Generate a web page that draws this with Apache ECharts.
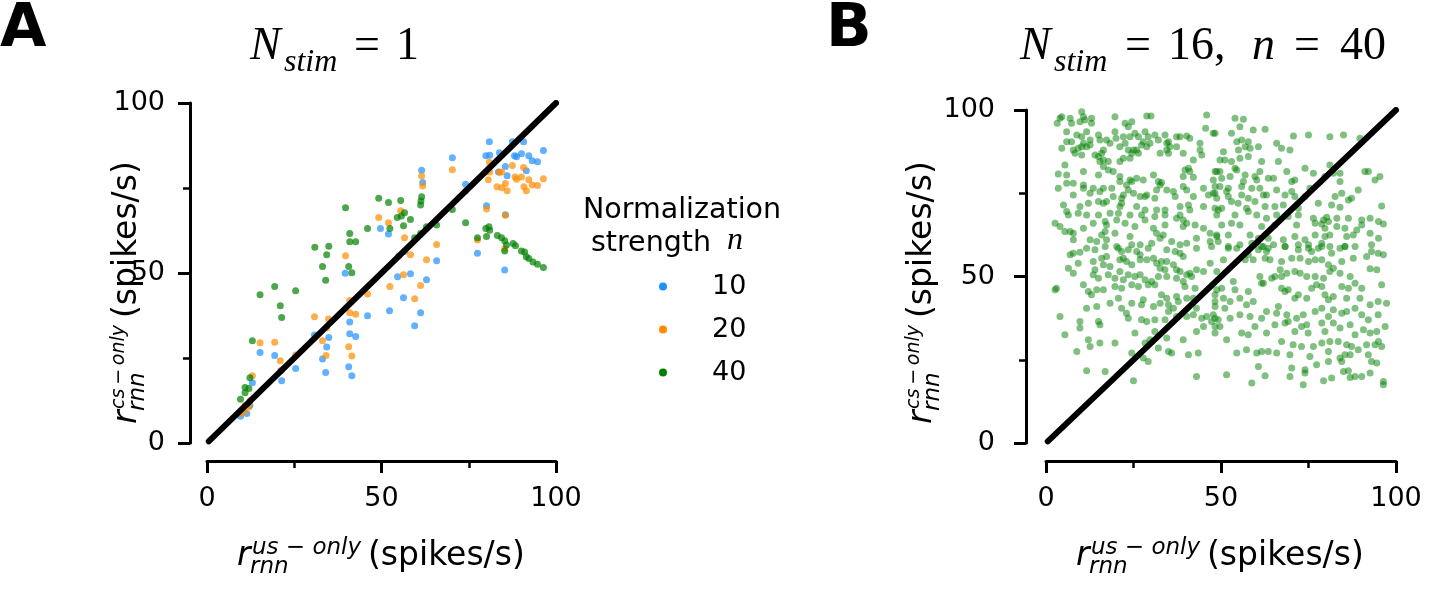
<!DOCTYPE html>
<html>
<head>
<meta charset="utf-8">
<script src="https://cdn.jsdelivr.net/npm/echarts@6/dist/echarts.min.js"></script>
<style>
  html, body { margin: 0; padding: 0; background: #fff; }
  #chart-container { width: 1452px; height: 609px; }
</style>
</head>
<body>
<div id="chart-container"></div>
<script>
var dom = document.getElementById("chart-container");
var myChart = echarts.init(dom, null, { renderer: "canvas" });

// panel A: r_cs-only vs r_us-only for three normalization strengths
const legendNames = ["10", "20", "40"];
const n10 = [
  [39.6,49.9],[46.0,37.4],[40.9,35.6],[30.8,31.8],[34.9,31.0],[40.9,32.1],[42.6,31.3],[15.2,26.6],[19.4,25.7],[34.3,28.2],
  [33.1,24.7],[40.6,22.4],[41.5,19.8],[34.0,20.7],[25.4,21.9],[21.4,18.3],[21.1,21.2],[13.0,17.7],[12.3,11.0],[9.6,7.9],
  [11.4,8.7],[80.9,88.6],[87.5,88.6],[90.7,88.6],[83.8,85.4],[79.9,84.5],[81.0,84.6],[96.4,86.0],[88.1,84.5],[88.7,84.2],
  [90.1,85.1],[92.2,84.5],[93.2,83.0],[94.7,82.7],[70.3,83.9],[83.5,79.7],[85.5,81.3],[91.5,80.1],[86.0,78.6],[61.5,80.2],
  [61.8,76.6],[74.1,76.1],[49.7,63.1],[52.0,61.5],[80.1,69.8],[85.5,67.1],[77.5,55.8],[56.6,56.3],[65.8,53.6],[85.3,50.9],
  [54.6,48.9],[58.3,49.8],[62.9,48.0],[56.3,42.7],[52.3,38.9],[61.2,38.3],[59.5,34.5]
];
const n20 = [
  [49.2,66.3],[39.7,55.1],[46.0,43.8],[40.9,41.9],[40.9,38.3],[42.6,37.9],[30.8,37.1],[34.8,36.5],[34.3,33.9],[33.1,30.1],
  [15.2,29.5],[19.4,29.6],[21.0,24.2],[25.4,25.9],[34.1,25.7],[40.6,28.3],[41.5,25.6],[21.4,21.5],[13.0,19.8],[12.3,12.4],
  [10.9,11.0],[12.0,10.6],[9.6,8.7],[10.7,9.2],[80.9,82.6],[79.9,79.7],[81.0,79.7],[83.8,79.6],[84.4,79.7],[87.5,81.6],
  [90.7,81.0],[88.3,78.2],[90.1,78.2],[88.7,77.6],[92.2,77.4],[96.4,77.7],[80.6,77.4],[85.5,76.3],[83.1,75.4],[84.5,75.1],
  [86.0,74.2],[90.8,75.4],[91.5,74.2],[93.2,75.9],[94.7,75.7],[61.5,78.5],[61.8,75.6],[70.3,80.4],[74.1,74.1],[55.5,68.3],
  [52.0,64.8],[56.6,60.4],[80.1,68.8],[85.5,67.0],[77.5,59.7],[65.8,58.4],[54.9,55.0],[58.3,55.4],[62.9,53.9],[85.3,57.1],
  [56.3,49.5],[52.4,46.0],[61.2,46.3],[59.5,42.4]
];
const n40 = [
  [49.2,72.0],[39.7,69.2],[46.0,63.1],[40.9,61.6],[40.9,59.2],[42.6,59.2],[30.9,57.6],[34.9,57.9],[34.3,55.4],[33.1,51.9],
  [40.6,51.9],[41.5,50.1],[34.0,47.9],[19.4,46.0],[15.2,43.6],[25.4,44.8],[21.0,40.4],[21.4,36.9],[13.0,30.1],[12.3,19.2],
  [10.9,16.3],[12.0,16.0],[10.9,14.8],[9.6,12.9],[52.0,70.7],[55.5,71.3],[61.5,72.4],[61.3,71.2],[61.2,70.0],[70.3,68.7],
  [56.6,67.7],[54.5,66.3],[55.7,66.8],[58.3,65.7],[52.4,63.1],[56.3,63.9],[62.9,63.6],[65.8,64.1],[59.5,60.4],[61.2,61.6],
  [74.1,64.8],[79.9,63.1],[80.8,63.6],[81.0,62.6],[80.1,60.7],[77.5,60.4],[83.2,61.0],[84.4,60.4],[85.3,59.5],[85.8,58.2],
  [87.7,58.7],[88.4,58.0],[85.3,56.5],[90.1,56.5],[91.0,56.2],[91.5,54.8],[92.2,54.3],[93.4,53.2],[94.7,52.6],[96.4,51.6]
];

// panel B: N_stim = 16, n = 40
const stim16 = [
  [4.0,97.5],[3.2,96],[4.5,98],[6.9,97.5],[7.3,96],[10.2,99.5],[10.7,98],[9.7,96.5],[11.1,97],[13.0,97.5],[13.0,96],[19.7,98],
  [22.6,96],[23.5,95],[24.5,96.5],[28.8,98.2],[30.0,98.2],[45.9,98.5],[45.6,94.5],[47.8,93],[5.9,93.5],[8.8,92.5],[10.2,92],
  [11.6,93.5],[12.6,91],[15.0,92.5],[15.4,91],[17.3,91],[18.3,90],[19.7,93.5],[20.0,91.5],[22.1,92],[24.0,92],[25.4,93],
  [26.4,92],[28.3,93.5],[29.2,92],[31.1,92.5],[32.1,91],[34.0,92.5],[35.0,90.5],[37.3,92],[38.3,92],[40.2,92.2],[41.1,91.5],
  [44.0,90],[5.9,90.5],[7.3,90.5],[10.7,90],[11.6,89],[12.6,89.5],[10.2,89],[9.2,88.5],[4.5,88.5],[7.8,88],[8.3,87],
  [10.2,86.5],[14.0,86.5],[15.0,86],[15.9,87],[16.4,88],[21.1,89],[22.6,90],[23.5,88],[25.0,88],[25.9,88],[26.4,87],
  [24.5,87],[27.3,89.5],[27.8,90.5],[28.8,89],[29.7,90],[34.5,90],[35.4,89],[34.5,88],[32.6,87],[35.0,87],[37.3,89],
  [39.2,87],[44.0,88],[44.5,86.5],[42.1,85],[16.4,85],[17.8,84.5],[21.1,84.5],[22.1,85.5],[24.0,85.5],[15.4,84.5],[5.4,83.5],
  [5.9,80.5],[3.5,80.8],[10.7,81.5],[15.0,80.5],[16.4,83],[17.8,82],[19.2,81.5],[21.1,80],[24.0,79],[25.9,79.5],[27.8,79],
  [30.7,80.5],[32.1,78.5],[33.0,78.2],[39.7,82],[40.7,82.5],[41.1,81.5],[42.1,79.8],[39.2,80],[48.8,81.5],[47.8,79],
  [3.5,76.5],[5.9,78],[7.8,78],[10.7,77.5],[10.7,76.5],[13.5,76.5],[16.4,76.5],[18.8,76.5],[21.1,78.5],[23.0,77.5],[24.5,78.5],
  [23.5,76],[25.0,75],[26.9,74],[28.3,74],[28.8,74.5],[31.6,76],[31.1,73.5],[32.6,77.5],[34.5,76],[36.4,75.5],[36.9,74],
  [39.2,77],[40.2,76],[42.1,74],[45.0,76.5],[46.4,74.5],[47.8,75],[48.8,73.5],[7.8,74.5],[12.6,75],[15.4,75.5],[19.2,74],
  [21.6,73.5],[22.1,74.5],[5.0,71.5],[9.7,71],[12.1,72],[15.0,72.5],[16.4,72],[17.3,72.5],[21.6,72],[21.1,71],[25.9,71],
  [28.3,70],[31.6,70],[34.0,70],[38.3,71],[40.7,71.5],[41.1,70],[45.0,71],[48.3,70.5],[5.9,69.5],[6.4,68.5],[9.2,69],
  [11.6,68.5],[15.0,68.5],[18.3,69],[20.7,69],[24.0,68.5],[27.3,68.5],[31.1,68],[34.0,68.5],[38.3,68.5],[48.8,68.5],[2.6,66],
  [4.0,65],[5.4,63.5],[6.9,63.5],[7.8,63],[10.7,64.5],[13.5,66],[16.9,66.5],[17.3,65.5],[20.2,67],[22.6,66],[25.4,65],
  [28.3,67],[30.7,64.5],[34.0,65.5],[37.3,67.5],[39.2,65],[40.2,66],[42.6,65.5],[39.2,67],[45.0,64.5],[46.9,63],[48.8,62],
  [16.9,63.5],[19.7,63],[15.9,62.5],[31.6,63],[33.5,62.5],[7.8,61],[12.6,61],[14.5,60.5],[17.3,61],[20.2,59],[24.0,62],
  [24.5,59.5],[26.9,59.5],[30.2,60],[32.6,61.5],[35.9,60.5],[38.3,59.5],[40.2,60],[43.0,61.5],[46.9,60.5],
  [54.0,97.5],[56.4,97.2],[55.4,95],[53.0,93],[59.2,94],[62.6,94.2],[48.3,93],[54.5,90.5],[55.9,91],[57.8,90.5],[56.9,89],
  [58.3,88.5],[60.7,89],[55.0,88],[65.9,90],[67.3,88.5],[69.7,88],[70.7,92.2],[75.0,92.5],[81.1,92],[85.0,92.5],[89.7,91.5],
  [50.7,87.5],[49.7,85],[51.1,85],[53.0,84.5],[55.4,85.5],[57.8,86],[61.6,84.5],[66.4,84.5],[48.3,81.5],[49.7,81.5],
  [50.2,79.5],[52.6,80],[54.0,82.5],[54.5,82],[56.9,80.5],[56.4,78.5],[59.7,80],[61.1,81.5],[60.2,79],[63.5,79.5],[65.0,79.5],
  [68.8,81.5],[71.1,79],[70.2,78.5],[74.0,82.5],[76.4,81],[79.7,80],[81.1,83.5],[82.1,81],[84.0,81],[84.0,78.5],[91.1,81.5],
  [92.1,81.5],[94.0,79],[95.4,80],[48.3,77],[49.7,77],[52.1,76.5],[51.6,75.5],[55.9,77],[58.8,76.5],[61.1,76.5],[63.0,74.5],
  [65.9,76],[70.2,75.5],[75.4,76.5],[89.2,76],[48.3,75],[52.1,74],[55.9,74.5],[57.8,73.5],[59.7,72.5],[62.1,74.5],[68.3,74.5],
  [71.1,74],[74.0,74],[77.8,72],[82.6,74],[84.5,75],[86.4,73],[87.3,73.5],[50.2,70.5],[49.2,70],[53.0,72.5],[54.9,72],
  [57.3,70.5],[57.8,69.5],[62.6,71],[65.4,71],[67.8,71.5],[72.1,70.5],[81.6,71.5],[84.0,70.8],[95.9,71.2],[54.0,68.5],
  [60.2,68.5],[63.0,67.5],[65.9,68.5],[69.2,68],[72.1,68.5],[76.4,67.5],[79.3,67],[80.2,67.8],[80.7,66.5],[83.1,67.5],
  [86.4,67.5],[90.2,67],[92.6,67.5],[95.0,66.5],[96.4,65.8],[50.2,65.5],[53.0,66],[55.4,65.5],[61.6,65],[65.4,65.5],
  [71.6,65.5],[76.9,66],[78.8,65.8],[79.7,64.5],[83.1,65],[85.4,64.5],[88.8,64],[90.2,65.5],[48.8,62.5],[52.1,62.5],
  [58.3,62.5],[60.7,61.5],[63.5,61.5],[67.8,61],[71.1,62],[74.0,61],[76.9,62.5],[79.7,62],[81.1,62.5],[85.9,62],[87.8,62.5],
  [92.6,63],[95.0,61.5],[52.1,59],[55.4,59.5],[58.8,60],[61.6,59],[65.0,59.5],[68.3,59],[72.1,59.5],[75.0,59.5],[78.8,60],
  [81.1,59],[85.4,59],[88.3,59],[93.0,59.5],[49.2,60.5],
  [6.9,56.5],[7.8,57],[9.7,57.3],[11.6,58.5],[14.0,58],[16.9,59],[20.7,58.5],[21.6,57.5],[23.5,58],[25.9,57.5],[29.2,58.5],
  [26.9,56.5],[34.5,58],[36.9,57.5],[38.3,57],[39.2,56],[43.0,58.5],[47.3,59],[6.4,52.5],[7.8,51],[9.2,54],[13.5,54.5],
  [14.0,52],[15.9,55.5],[16.4,53.5],[17.3,56],[18.3,53],[21.1,55],[22.1,55.5],[23.0,54.5],[24.5,53.5],[26.9,55],[28.8,55],
  [30.7,55.5],[31.6,54],[33.0,54.5],[34.5,54.5],[32.6,52.5],[34.0,52],[36.4,53.5],[37.3,52],[38.3,51.5],[40.2,50.5],
  [41.1,51],[43.0,52],[45.0,51.5],[46.9,54],[48.8,51.5],[13.5,50.5],[15.0,49.5],[17.8,50.5],[19.7,49.5],[21.1,51.5],
  [22.1,49],[23.5,50.5],[25.4,50],[26.9,50.5],[28.3,49],[30.2,48.5],[32.1,50],[34.5,50],[37.3,49.5],[39.2,48.5],[41.6,50],
  [39.7,47],[42.6,46.5],[2.6,46],[3.0,46.5],[10.7,47.5],[12.1,45.5],[13.0,44.5],[14.5,46],[16.4,46],[19.7,47],[21.6,46.5],
  [24.5,47.5],[26.4,47],[29.2,47.5],[31.1,47.5],[33.0,44.5],[34.5,43.5],[37.3,44],[37.8,42.5],[40.2,43.5],[42.1,43.5],
  [43.0,40.5],[48.3,44.5],[48.3,41],[11.6,40.5],[14.5,41],[18.3,42],[20.7,43.5],[21.6,40.5],[23.0,39],[24.5,42],[27.3,41.5],
  [27.8,43],[30.7,41],[32.6,42],[35.0,41.5],[36.4,40.5],[40.2,38],[42.1,38.5],[44.5,37.5],[45.9,38],[47.8,38.5],[49.2,37],
  [4.0,38],[9.7,36.5],[15.0,36.5],[15.4,35.5],[23.5,37.5],[27.3,37],[28.8,36.5],[31.1,37],[34.0,37],[35.0,39.5],[37.3,38],
  [47.3,36.5],[48.3,35],[5.4,32.5],[9.7,34.5],[25.4,33],[31.1,33.5],[34.5,31.5],[39.2,31],[43.0,33.5],[45.0,35],[48.3,33],
  [12.1,31],[12.6,29],[15.4,30],[19.7,30],[28.3,30],[29.7,31],[32.1,28.5],[35.0,27.5],[35.9,27],[40.7,26.5],[43.5,27],
  [8.8,27.5],[24.5,27],[27.8,25.5],[29.2,24.5],[11.6,21.7],[16.9,21.5],[25.0,18.7],[43.0,20],
  [52.1,58.5],[54.5,58.5],[60.7,58],[62.1,59],[63.0,57.5],[63.5,58.5],[68.3,59],[72.1,58],[75.0,58.5],[75.9,57.5],[77.8,58.5],
  [78.8,59],[81.6,57],[84.0,58.5],[85.4,59],[93.0,57.5],[94.9,57],[96.4,56.5],[50.7,55],[56.9,55],[57.8,56.5],[59.2,55],
  [62.6,55.5],[64.0,55],[67.3,54.5],[70.2,55.5],[72.6,55.5],[75.0,54.5],[76.9,55],[78.8,55],[80.7,53.5],[82.1,52.5],
  [84.5,54.5],[87.8,55.5],[91.6,56],[92.6,52.3],[94.5,52],[61.1,50],[62.1,48],[64.5,49.5],[65.4,50],[66.9,52],[67.3,50],
  [68.8,51],[71.1,51.5],[72.6,51],[74.5,50],[76.9,50],[79.3,49.5],[81.1,51.5],[84.0,51],[86.9,50],[88.3,48],[90.2,46.5],
  [95.9,47.5],[50.2,46.5],[53.5,48.5],[54.0,46],[48.8,46],[48.3,42.5],[50.7,43.5],[52.6,42.5],[55.4,43.5],[57.8,45.5],
  [59.2,42.5],[57.3,41.5],[61.6,48],[67.3,46.5],[68.3,45.5],[69.2,46],[71.1,43.5],[72.1,44.5],[74.5,43.5],[75.9,46.5],
  [77.3,47.5],[78.8,47],[79.7,44.5],[80.7,43],[82.1,44],[84.5,47],[86.4,46.5],[85.9,43.5],[89.7,43.5],[92.6,41.5],[94.9,42.5],
  [97.3,42],[51.1,40.5],[55.4,38.5],[58.3,38],[61.6,37.5],[63.0,39.5],[65.9,39],[66.4,41],[68.8,38.5],[69.2,36.5],[71.6,37.5],
  [73.5,38.5],[74.5,35.5],[76.9,39.5],[78.8,40.5],[80.7,38],[82.1,40],[84.5,39],[85.9,39.5],[88.3,40.5],[90.2,38.5],[92.1,37],
  [94.9,38.5],[48.3,37.5],[49.7,35],[52.6,37.5],[55.9,33],[57.8,32.5],[59.7,35],[63.0,33],[65.4,35.5],[68.3,36],[71.1,33.5],
  [73.0,35],[74.9,33],[78.8,36],[79.7,33.5],[82.1,36],[84.0,34.5],[86.9,35.5],[88.3,32.5],[90.7,34],[92.6,33],[94.5,33.5],
  [96.9,35],[95.0,30.5],[51.6,31],[54.5,27],[57.3,28],[60.2,27],[61.6,27.5],[63.5,27.5],[65.9,27],[67.3,30.5],[70.6,29.5],
  [73.0,29],[76.4,29],[78.8,30],[81.1,30.5],[83.5,30.5],[85.9,29.5],[87.3,29],[89.2,28],[91.6,29.5],[94.0,29.5],[95.9,29],
  [69.7,26.5],[75.4,26],[80.7,27.5],[84.0,25.5],[85.4,26.5],[86.9,26.5],[92.1,26.5],[93.0,24.5],[94.5,24],[60.7,23],
  [70.2,22.5],[74.0,22],[77.3,23.5],[80.7,24.5],[84.5,24.5],[85.0,21.5],[86.4,21.7],[88.3,20],[90.2,20],[92.6,21],[51.6,20.5],
  [58.8,18],[62.6,20.2],[69.7,20],[73.5,17.5],[74.0,21],[79.3,18.7],[81.6,19.5],[86.9,19.7],[96.4,18.5],[96.4,17.5]
];

// unity line, tick values
const identity = [[0.5, 0.5], [100, 100]];
const tickStep = 50;

const blue = "#1e90ff", orange = "#ff8c00", green = "#008000";
const sans = '"DejaVu Sans"';
const serif = '"Liberation Serif"';

function valueAxis(gridIndex, offset, margin) {
  return {
    type: "value", gridIndex: gridIndex, min: 0, max: 100, interval: tickStep, offset: offset,
    axisLine: { show: true, onZero: false, lineStyle: { color: "#000", width: 3 } },
    axisTick: { show: true, length: 12, lineStyle: { color: "#000", width: 3 } },
    minorTick: { show: true, splitNumber: 2, length: 7, lineStyle: { color: "#000", width: 2.5 } },
    splitLine: { show: false },
    minorSplitLine: { show: false },
    axisLabel: { color: "#000", fontSize: 27, fontFamily: "DejaVu Sans", margin: margin }
  };
}

function txt(x, y, text, font, align) {
  return {
    type: "text", x: x, y: y,
    style: { text: text, font: font, fill: "#000", align: align || "left", verticalAlign: "middle",
             textAlign: align || "left", textVerticalAlign: "middle" }
  };
}

// r_rnn^{sup} (spikes/s), laid out along the local x direction
function mathLabel(x, y, rot, sup, supSize, restX) {
  return {
    type: "group", x: x, y: y, rotation: rot,
    children: [
      txt(0, 0, "r", "italic 33px " + sans),
      txt(15, -8, sup, "italic " + supSize + "px " + sans),
      txt(13, 11, "rnn", "italic 23px " + sans),
      txt(restX, 0, "(spikes/s)", "33px " + sans)
    ]
  };
}

var option = {
  animation: false,
  backgroundColor: "#fff",
  grid: [
    { left: 207, top: 103, width: 349, height: 340 },
    { left: 1046, top: 110, width: 350, height: 333 }
  ],
  xAxis: [valueAxis(0, 18, 24), valueAxis(1, 18, 24)],
  yAxis: [valueAxis(0, 17, 25), valueAxis(1, 20, 31)],
  legend: {
    data: legendNames,
    orient: "vertical",
    left: 654, top: 268,
    icon: "circle", itemWidth: 8, itemHeight: 8, itemGap: 16,
    itemStyle: { opacity: 1 },
    textStyle: { fontSize: 27, fontFamily: "DejaVu Sans", color: "#000", lineHeight: 27, padding: [0, 0, 0, 40] }
  },
  graphic: [
    txt(0, 30, "A", "bold 60px " + sans),
    txt(826, 30, "B", "bold 60px " + sans),
    // panel titles
    txt(250, 47, "N", "italic 46px " + serif),
    txt(284, 63, "stim", "italic 32px " + serif),
    txt(354, 47, "=", "46px " + serif),
    txt(396, 47, "1", "46px " + serif),
    txt(1020, 47, "N", "italic 46px " + serif),
    txt(1054, 63, "stim", "italic 32px " + serif),
    txt(1125, 47, "=", "46px " + serif),
    txt(1168, 47, "16,", "46px " + serif),
    txt(1252, 47, "n", "italic 46px " + serif),
    txt(1294, 47, "=", "46px " + serif),
    txt(1340, 47, "40", "46px " + serif),
    // legend title
    txt(583, 211, "Normalization", "28.5px " + sans),
    txt(591, 244, "strength", "28.5px " + sans),
    txt(727, 241, "n", "italic 32px " + serif),
    // axis titles
    mathLabel(237, 556, 0, "us \u2212 only", 23, 131),
    mathLabel(1076, 556, 0, "us \u2212 only", 23, 131),
    mathLabel(127, 424, Math.PI / 2, "cs\u2009\u2212\u2009only", 19, 106),
    mathLabel(922, 424, Math.PI / 2, "cs\u2009\u2212\u2009only", 19, 106)
  ],
  series: [
    { name: "10", type: "scatter", xAxisIndex: 0, yAxisIndex: 0, data: n10, symbolSize: 7,
      itemStyle: { color: blue, opacity: 0.7 } },
    { name: "20", type: "scatter", xAxisIndex: 0, yAxisIndex: 0, data: n20, symbolSize: 7,
      itemStyle: { color: orange, opacity: 0.7 } },
    { name: "40", type: "scatter", xAxisIndex: 0, yAxisIndex: 0, data: n40, symbolSize: 7,
      itemStyle: { color: green, opacity: 0.7 } },
    { name: "unityA", type: "line", xAxisIndex: 0, yAxisIndex: 0, data: identity, symbol: "none", z: 5,
      lineStyle: { color: "#000", width: 6, cap: "round" } },
    { name: "B", type: "scatter", xAxisIndex: 1, yAxisIndex: 1, data: stim16, symbolSize: 7,
      itemStyle: { color: green, opacity: 0.5 } },
    { name: "unityB", type: "line", xAxisIndex: 1, yAxisIndex: 1, data: identity, symbol: "none", z: 5,
      lineStyle: { color: "#000", width: 6, cap: "round" } }
  ]
};

if (option && typeof option === "object") {
  myChart.setOption(option);
}

window.addEventListener("resize", myChart.resize);
</script>
</body>
</html>
